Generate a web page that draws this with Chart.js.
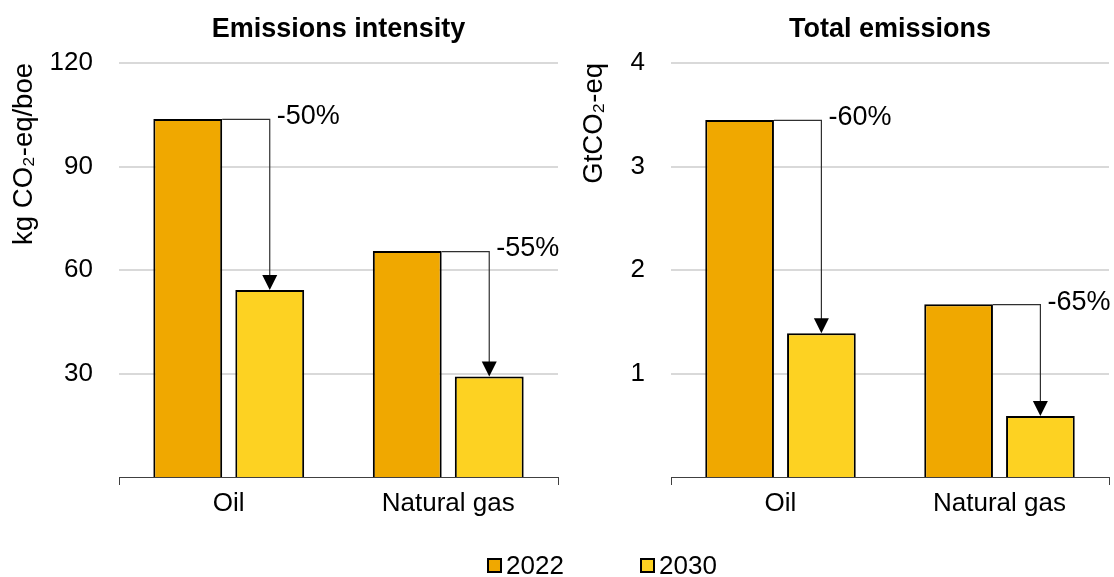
<!DOCTYPE html>
<html><head><meta charset="utf-8">
<script src="https://cdn.jsdelivr.net/npm/chart.js"></script>
<style>
html,body{margin:0;padding:0;background:#fff;width:1114px;height:577px;overflow:hidden;font-family:"Liberation Sans",Arial,sans-serif;}
.wrap{position:absolute;top:0;height:577px;}
#w1{left:0;width:570px;}
#w2{left:570px;width:544px;}
#legend{position:absolute;top:548px;left:0;width:1114px;height:34px;font-size:26px;color:#000;}
.item{position:absolute;top:0;display:flex;align-items:center;height:34px;line-height:34px}
.box{width:15px;height:15px;border:2px solid #000;box-sizing:border-box;margin-right:4px}
</style>
</head><body>
<div class="wrap" id="w1"><canvas id="c1" width="570" height="577"></canvas></div>
<div class="wrap" id="w2"><canvas id="c2" width="544" height="577"></canvas></div>
<div id="legend"></div>
<script>
const categories = ['Oil', 'Natural gas'];
const seriesLabels = ['2022', '2030'];
const seriesColors = ['#F0A800', '#FDD222'];

const intensity2022 = [103.8, 65.5];
const intensity2030 = [54.2, 29.1];
const intensityChange = ['-50%', '-55%'];
const intensityTicks = [30, 60, 90, 120];

const total2022 = [3.45, 1.67];
const total2030 = [1.39, 0.59];
const totalChange = ['-60%', '-65%'];
const totalTicks = [1, 2, 3, 4];

Chart.defaults.font.family = '"Liberation Sans", Arial, sans-serif';
Chart.defaults.font.size = 26;
Chart.defaults.color = '#000';

const arrowPlugin = {
  id: 'arrows',
  afterDatasetsDraw(chart, args, opts) {
    const ctx = chart.ctx;
    const m0 = chart.getDatasetMeta(0).data;
    const m1 = chart.getDatasetMeta(1).data;
    ctx.save();
    for (let i = 0; i < m0.length; i++) {
      const b0 = m0[i], b1 = m1[i];
      const x0 = b0.x + b0.width / 2;
      const y0 = b0.y;
      const xv = b1.x;
      const tipY = b1.y;
      ctx.strokeStyle = '#303030';
      ctx.lineWidth = 1.2;
      ctx.beginPath();
      ctx.moveTo(x0, y0 + 0.5);
      ctx.lineTo(xv, y0 + 0.5);
      ctx.lineTo(xv, tipY - 14);
      ctx.stroke();
      ctx.fillStyle = '#000';
      ctx.beginPath();
      ctx.moveTo(xv - 7.5, tipY - 15);
      ctx.lineTo(xv + 7.5, tipY - 15);
      ctx.lineTo(xv, tipY);
      ctx.closePath();
      ctx.fill();
      ctx.font = '27px "Liberation Sans", Arial, sans-serif';
      ctx.textAlign = 'left';
      ctx.textBaseline = 'middle';
      ctx.fillText(opts.labels[i], xv + 7, y0 - 2);
    }
    ctx.restore();
  }
};

function makeChart(id, title, yTitle, d22, d30, changes, yMax, yTicks, yWidth, padRight) {
  return new Chart(document.getElementById(id), {
    type: 'bar',
    data: {
      labels: categories,
      datasets: [
        { label: seriesLabels[0], data: d22, backgroundColor: seriesColors[0], borderColor: '#000', borderWidth: 2 },
        { label: seriesLabels[1], data: d30, backgroundColor: seriesColors[1], borderColor: '#000', borderWidth: 2 }
      ]
    },
    options: {
      responsive: false,
      animation: false,
      events: [],
      layout: { padding: { left: 0, right: padRight, top: 0, bottom: 60 } },
      datasets: { bar: { categoryPercentage: 0.747, barPercentage: 0.84 } },
      plugins: {
        legend: { display: false },
        tooltip: { enabled: false },
        title: {
          display: true, text: title, fullSize: false,
          font: { size: 27, weight: 'bold' },
          padding: { top: 13, bottom: 17.6 }
        },
        arrows: { labels: changes }
      },
      scales: {
        x: {
          grid: {
            offset: true, drawOnChartArea: false, drawTicks: true, tickLength: 8,
            tickColor: c => c.index === 1 ? 'rgba(0,0,0,0)' : '#404040', tickWidth: 1
          },
          border: { display: true, color: '#404040', width: 1 },
          ticks: { padding: 3, font: { size: 26 } },
          afterFit: s => { s.height = 40; }
        },
        y: {
          min: 0, max: yMax,
          afterBuildTicks: s => { s.ticks = yTicks.map(v => ({ value: v })); },
          grid: { color: '#D9D9D9', lineWidth: 2, drawTicks: false },
          border: { display: false },
          ticks: { padding: 26, font: { size: 26 } },
          title: { display: true, text: yTitle, align: 'end', font: { size: 27.5 }, padding: { top: 8, bottom: 0 } },
          afterFit: s => { s.width = yWidth; }
        }
      }
    },
    plugins: [arrowPlugin]
  });
}

makeChart('c1', 'Emissions intensity', 'kg CO\u2082-eq/boe', intensity2022, intensity2030, intensityChange, 120, intensityTicks, 119, 12);
makeChart('c2', 'Total emissions', 'GtCO\u2082-eq', total2022, total2030, totalChange, 4, totalTicks, 101, 5);

const legend = document.getElementById('legend');
const legendX = [487, 640];
seriesLabels.forEach((lab, i) => {
  const it = document.createElement('div');
  it.className = 'item';
  it.style.left = legendX[i] + 'px';
  const b = document.createElement('span');
  b.className = 'box';
  b.style.background = seriesColors[i];
  const t = document.createElement('span');
  t.textContent = lab;
  it.appendChild(b); it.appendChild(t);
  legend.appendChild(it);
});
</script>
</body></html>
